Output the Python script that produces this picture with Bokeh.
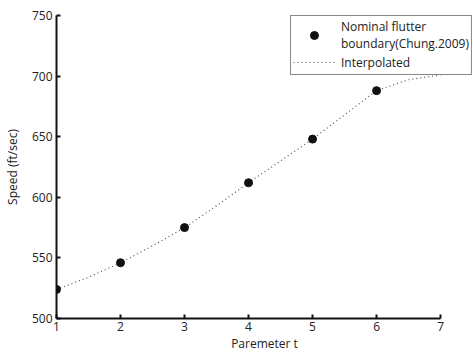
from bokeh.plotting import figure
from bokeh.models import Range1d, Legend, LegendItem, FixedTicker
from bokeh.embed import file_html
from bokeh.resources import INLINE

# Nominal flutter boundary points
t_pts = [1, 2, 3, 4, 5, 6]
speed_pts = [524, 546, 575, 612, 648, 688]

# Interpolated curve
t_line = [1, 1.5, 2, 2.5, 3, 3.5, 4, 4.5, 5, 5.5, 6, 6.5, 7]
speed_line = [524, 534, 546, 560, 575, 593, 612, 630, 648, 668, 688, 697, 701]

x_ticks = [1, 2, 3, 4, 5, 6, 7]
y_ticks = [500, 550, 600, 650, 700, 750]

FONT = "Open Sans"

# frame spans x px 55..472; the x axis itself stops at t=7 (px 440)
p = figure(width=473, height=354, output_backend="svg", toolbar_location=None,
           x_range=Range1d(1, 7.4987), y_range=Range1d(500, 750),
           min_border_left=55, min_border_right=1, min_border_top=15, min_border_bottom=36)
p.outline_line_color = None
p.grid.visible = False

line_r = p.line(t_line, speed_line, line_color="#555555", line_width=1.2, line_dash="1 3")
pts_r = p.scatter(t_pts, speed_pts, size=8, color="#111111")

for ax in (p.xaxis[0], p.yaxis[0]):
    ax.axis_line_width = 2
    ax.axis_line_color = "#111111"
    ax.major_tick_in = 4
    ax.major_tick_out = 0
    ax.major_tick_line_width = 2
    ax.major_tick_line_color = "#111111"
    ax.minor_tick_line_color = None
    ax.major_label_text_font = FONT
    ax.major_label_text_font_size = "12px"
    ax.major_label_text_color = "#222222"
    ax.axis_label_text_font = FONT
    ax.axis_label_text_font_size = "12px"
    ax.axis_label_text_font_style = "normal"
    ax.axis_label_text_color = "#222222"

p.xaxis.bounds = (1, 7)
p.xaxis.ticker = FixedTicker(ticks=x_ticks)
p.yaxis.ticker = FixedTicker(ticks=y_ticks)
p.xaxis.axis_label = "Paremeter t"
p.yaxis.axis_label = "Speed (ft/sec)"
p.xaxis.major_label_standoff = 3
p.yaxis.major_label_standoff = 4
p.xaxis.axis_label_standoff = 1
p.yaxis.axis_label_standoff = 8

legend = Legend(items=[
    LegendItem(label="Nominal flutter\nboundary(Chung.2009)", renderers=[pts_r]),
    LegendItem(label="Interpolated", renderers=[line_r]),
], location="top_right")
legend.border_line_color = "#111111"
legend.border_line_width = 1.5
legend.background_fill_alpha = 1.0
legend.label_text_font = FONT
legend.label_text_font_size = "12px"
legend.label_text_color = "#222222"
legend.glyph_width = 42
legend.padding = 2
legend.spacing = 0
legend.margin = 0
legend.label_standoff = 6
legend.label_height = 14
p.add_layout(legend, "center")

open("out.html", "w").write(file_html(p, INLINE))
